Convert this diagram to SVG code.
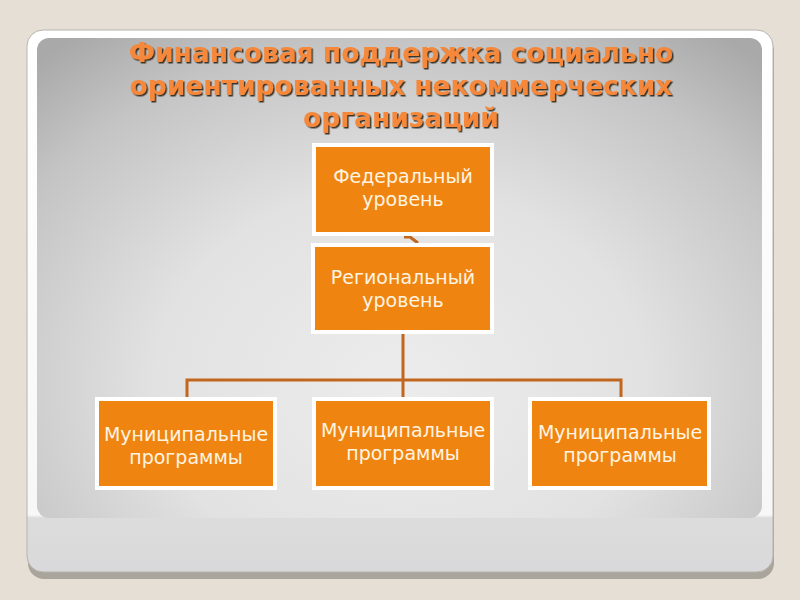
<svg xmlns="http://www.w3.org/2000/svg" width="800" height="600" viewBox="0 0 800 600">
<defs>
<radialGradient id="panel" cx="0.5" cy="0.72" r="0.75" gradientTransform="translate(0.5 0.72) scale(1 1.2) translate(-0.5 -0.72)">
<stop offset="0" stop-color="#ECECEC"/>
<stop offset="0.45" stop-color="#E2E2E2"/>
<stop offset="0.8" stop-color="#C4C4C4"/>
<stop offset="1" stop-color="#A9A9A9"/>
</radialGradient>
<linearGradient id="card" x1="0" y1="0" x2="0" y2="1">
<stop offset="0" stop-color="#FFFFFF"/>
<stop offset="0.895" stop-color="#F7F7F7"/>
<stop offset="0.9" stop-color="#DCDCDC"/>
<stop offset="1" stop-color="#D9D9DB"/>
</linearGradient>
<filter id="tsh" x="-5%" y="-20%" width="110%" height="140%">
<feDropShadow dx="1.5" dy="1.5" stdDeviation="0.5" flood-color="#2f2218" flood-opacity="0.9"/>
</filter>
</defs>
<style>
.title{font-family:"DejaVu Sans","Noto Sans",sans-serif;font-weight:bold;font-size:26.5px;fill:#F5883A;text-anchor:middle}
.frame{fill:#FFFFFF}
.box{fill:#EF8510}
.lbl{font-family:"DejaVu Sans","Noto Sans",sans-serif;font-size:19px;fill:#FFF4E2;text-anchor:middle}
.conn{stroke:#C2661D;stroke-width:3;fill:none}
</style>
<rect width="800" height="600" fill="#E5DFD5"/>
<rect x="28" y="35" width="746" height="544" rx="16" fill="#A9A59C"/>
<rect x="27" y="30" width="746" height="542" rx="16" fill="url(#card)" stroke="#B8B4AC" stroke-width="1"/>
<rect x="37" y="38" width="725" height="480" rx="12" fill="url(#panel)"/>
<g id="title" filter="url(#tsh)">
<text class="title" x="401" y="62">Финансовая поддержка социально</text>
<text class="title" x="401" y="95">ориентированных некоммерческих</text>
<text class="title" x="401" y="127">организаций</text>
</g>
<g id="connectors">
<path class="conn" d="M403 334 V380 M187 398 V380 H621 V398 M403 380 V398"/>
<path class="conn" d="M404 237 L410 237 L418 243" stroke-width="2.5"/>
</g>
<g id="federal">
<rect class="frame" x="312" y="143" width="182" height="93"/>
<rect class="box" x="316" y="147" width="174" height="85"/>
<text class="lbl" x="403" y="183">Федеральный</text>
<text class="lbl" x="403" y="206">уровень</text>
</g>
<g id="regional">
<rect class="frame" x="311" y="243" width="183" height="91"/>
<rect class="box" x="315" y="247" width="175" height="83"/>
<text class="lbl" x="403" y="284">Региональный</text>
<text class="lbl" x="403" y="307">уровень</text>
</g>
<g id="mun1">
<rect class="frame" x="95" y="397" width="182" height="93"/>
<rect class="box" x="99" y="401" width="174" height="85"/>
<text class="lbl" x="186" y="441">Муниципальные</text>
<text class="lbl" x="186" y="464">программы</text>
</g>
<g id="mun2">
<rect class="frame" x="312" y="397" width="182" height="93"/>
<rect class="box" x="316" y="401" width="174" height="85"/>
<text class="lbl" x="403" y="437">Муниципальные</text>
<text class="lbl" x="403" y="460">программы</text>
</g>
<g id="mun3">
<rect class="frame" x="528" y="397" width="183" height="93"/>
<rect class="box" x="532" y="401" width="175" height="85"/>
<text class="lbl" x="620" y="439">Муниципальные</text>
<text class="lbl" x="620" y="462">программы</text>
</g>
</svg>
